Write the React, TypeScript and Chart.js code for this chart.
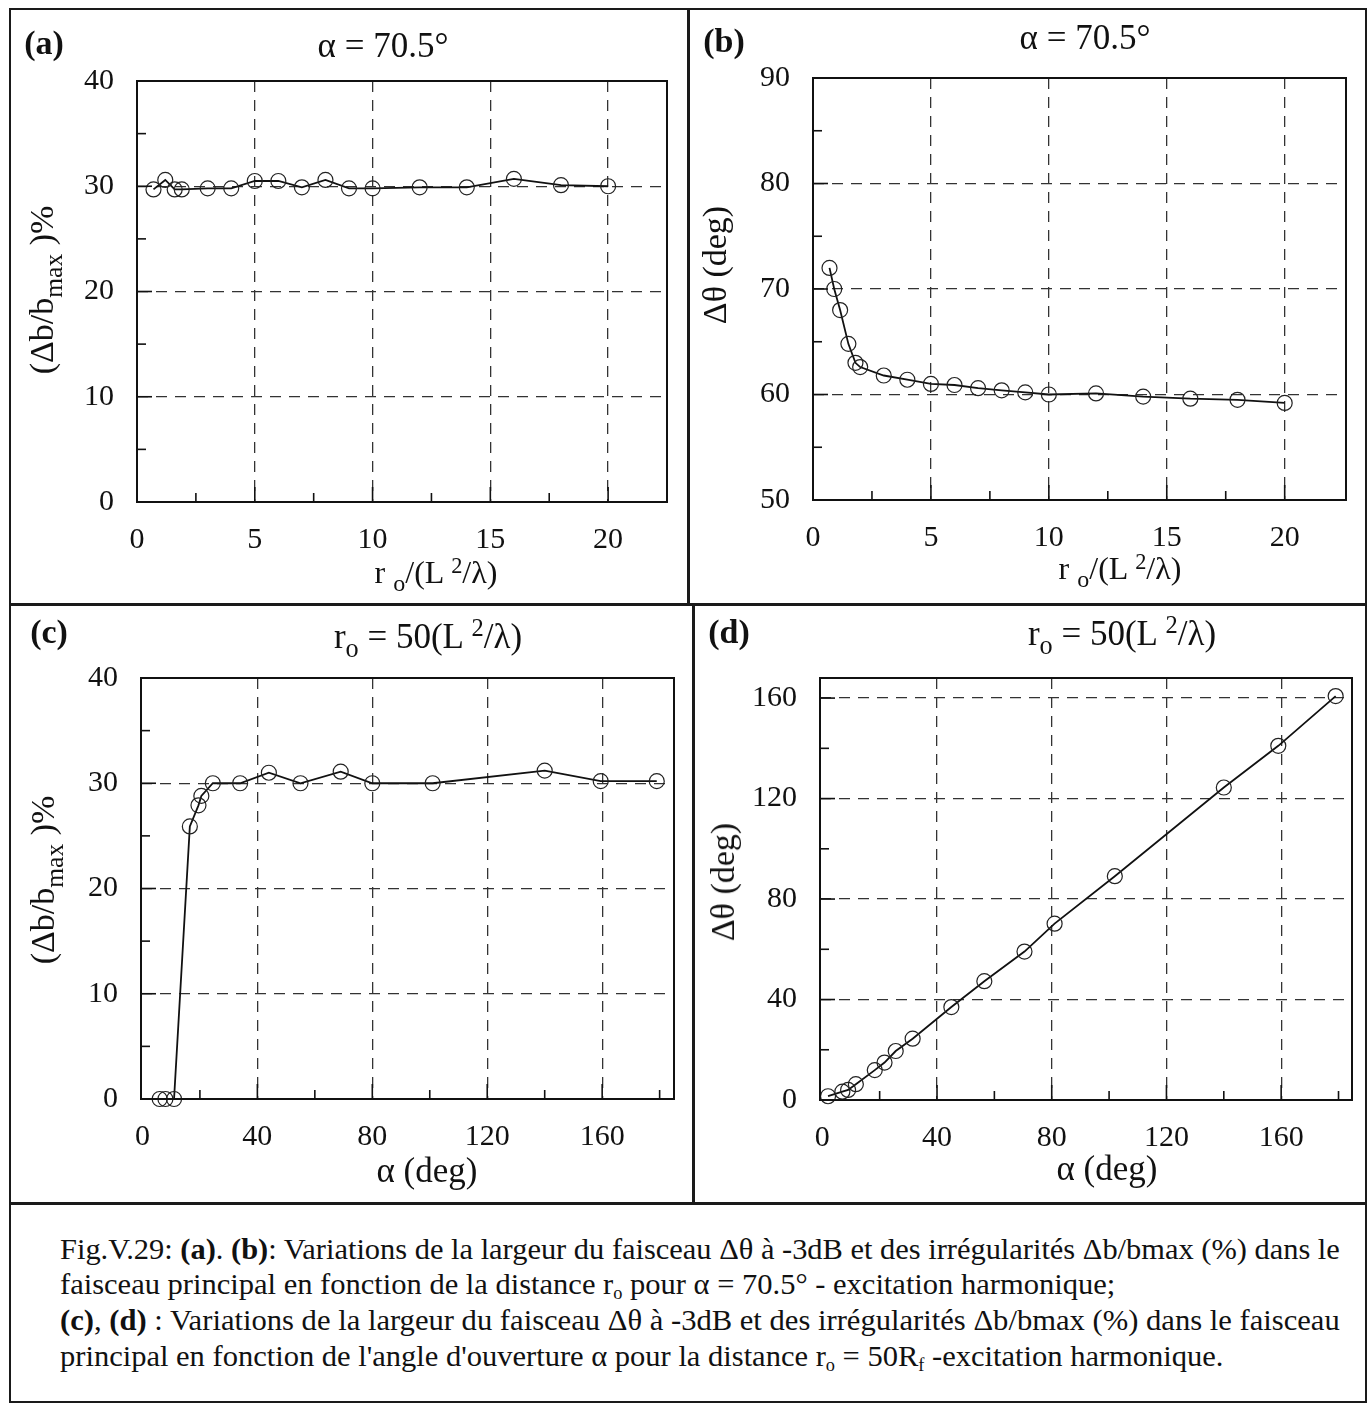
import React, { useEffect, useLayoutEffect, useRef } from "react";
import { Chart, registerables } from "chart.js";

Chart.register(...registerables);

const FONT = "'Liberation Serif', 'Times New Roman', serif";

// ---------- data ----------
// (a) Δb/bmax (%) vs r0/(L²/λ), α = 70.5°
const aX = [0.7, 1.2, 1.6, 1.9, 3, 4, 5, 6, 7, 8, 9, 10, 12, 14, 16, 18, 20];
const aY = [29.7, 30.6, 29.7, 29.7, 29.8, 29.8, 30.5, 30.5, 29.9, 30.6, 29.8, 29.8, 29.9, 29.9, 30.7, 30.1, 30.0];
// (b) Δθ (deg) vs r0/(L²/λ), α = 70.5°
const bX = [0.7, 0.9, 1.15, 1.5, 1.8, 2, 3, 4, 5, 6, 7, 8, 9, 10, 12, 14, 16, 18, 20];
const bY = [72, 70, 68, 64.8, 63, 62.6, 61.8, 61.4, 61, 60.9, 60.6, 60.4, 60.2, 60, 60.1, 59.8, 59.6, 59.5, 59.2];
// (c) Δb/bmax (%) vs α (deg), r0 = 50(L²/λ)
const cX = [6, 8, 11, 16.5, 19.5, 20.5, 24.5, 34, 44, 55, 69, 80, 101, 140, 159.5, 179];
const cY = [0, 0, 0, 25.9, 27.9, 28.8, 30, 30, 31, 30, 31.1, 30, 30, 31.2, 30.2, 30.2];
// (d) Δθ (deg) vs α (deg), r0 = 50(L²/λ)
const dX = [2, 7, 9, 11.7, 18.3, 21.7, 25.6, 31.5, 45, 56.5, 70.5, 81, 102, 140, 159, 179];
const dY = [1.5, 3.3, 4, 6.3, 11.9, 14.9, 19.5, 24.4, 37, 47.3, 59.1, 70.2, 89.1, 124.4, 141, 160.8];

// tick values
const xTicksR = [0, 5, 10, 15, 20];
const xMinorR = [2.5, 7.5, 12.5, 17.5];
const yTicksA = [0, 10, 20, 30, 40];
const yMinorA = [5, 15, 25, 35];
const yTicksB = [50, 60, 70, 80, 90];
const yMinorB = [55, 65, 75, 85];
const xTicksAlpha = [0, 40, 80, 120, 160];
const xMinorAlpha = [20, 60, 100, 140, 180];
const yTicksC = [0, 10, 20, 30, 40];
const yMinorC = [5, 15, 25, 35];
const yTicksD = [0, 40, 80, 120, 160];
const yMinorD = [20, 60, 100, 140];

type Cfg = {
  box: { l: number; t: number; w: number; h: number };
  area: { l: number; t: number; r: number; b: number };
  xMin: number; xMax: number; yMin: number; yMax: number;
  xTicks: number[]; xMinor: number[]; yTicks: number[]; yMinor: number[];
  xs: number[]; ys: number[];
};

const panels: Cfg[] = [
  {
    box: { l: 12, t: 12, w: 674, h: 588 },
    area: { l: 137, t: 81, r: 667, b: 502 },
    xMin: 0, xMax: 22.5, yMin: 0, yMax: 40,
    xTicks: xTicksR, xMinor: xMinorR, yTicks: yTicksA, yMinor: yMinorA,
    xs: aX, ys: aY,
  },
  {
    box: { l: 690, t: 12, w: 674, h: 588 },
    area: { l: 813, t: 78, r: 1346, b: 500 },
    xMin: 0, xMax: 22.6, yMin: 50, yMax: 90,
    xTicks: xTicksR, xMinor: xMinorR, yTicks: yTicksB, yMinor: yMinorB,
    xs: bX, ys: bY,
  },
  {
    box: { l: 12, t: 607, w: 678, h: 594 },
    area: { l: 141, t: 678, r: 674, b: 1099 },
    xMin: -0.5, xMax: 185, yMin: 0, yMax: 40,
    xTicks: xTicksAlpha, xMinor: xMinorAlpha, yTicks: yTicksC, yMinor: yMinorC,
    xs: cX, ys: cY,
  },
  {
    box: { l: 695, t: 607, w: 669, h: 594 },
    area: { l: 820, t: 678, r: 1352, b: 1100 },
    xMin: -0.8, xMax: 184.7, yMin: 0, yMax: 168,
    xTicks: xTicksAlpha, xMinor: xMinorAlpha, yTicks: yTicksD, yMinor: yMinorD,
    xs: dX, ys: dY,
  },
];

function PanelChart({ cfg }: { cfg: Cfg }) {
  const ref = useRef<HTMLCanvasElement>(null);
  useEffect(() => {
    const { box, area } = cfg;
    const yW = area.l - box.l;
    const xH = box.t + box.h - area.b;
    const nearEdge = (v: number, lo: number, hi: number) => {
      const tol = (hi - lo) * 0.015;
      return v - lo < tol || hi - v < tol;
    };
    const framePlugin = {
      id: "frame",
      afterDraw(chart: any) {
        const ctx = chart.ctx;
        const ca = chart.chartArea;
        const sx = chart.scales.x;
        const sy = chart.scales.y;
        ctx.save();
        ctx.strokeStyle = "#111";
        ctx.lineWidth = 2;
        ctx.setLineDash([]);
        ctx.strokeRect(ca.left, ca.top, ca.right - ca.left, ca.bottom - ca.top);
        ctx.lineWidth = 1.6;
        const vt = (vals: number[], len: number) => {
          vals.forEach((v) => {
            const px = sx.getPixelForValue(v);
            if (px <= ca.left + 3 || px >= ca.right - 1) return;
            ctx.beginPath();
            ctx.moveTo(px, ca.bottom);
            ctx.lineTo(px, ca.bottom - len);
            ctx.stroke();
          });
        };
        const ht = (vals: number[], len: number) => {
          vals.forEach((v) => {
            const py = sy.getPixelForValue(v);
            if (py <= ca.top + 1 || py >= ca.bottom - 1) return;
            ctx.beginPath();
            ctx.moveTo(ca.left, py);
            ctx.lineTo(ca.left + len, py);
            ctx.stroke();
          });
        };
        vt(cfg.xTicks, 15);
        vt(cfg.xMinor, 9);
        ht(cfg.yTicks, 15);
        ht(cfg.yMinor, 9);
        ctx.restore();
      },
    };
    const chart = new Chart(ref.current as HTMLCanvasElement, {
      type: "line",
      data: {
        datasets: [
          {
            data: cfg.xs.map((x, i) => ({ x, y: cfg.ys[i] })),
            borderColor: "#111",
            borderWidth: 1.8,
            pointRadius: 7.5,
            pointBorderWidth: 1.2,
            pointBackgroundColor: "rgba(0,0,0,0)",
            pointBorderColor: "#222",
            tension: 0,
            fill: false,
            clip: false as any,
          } as any,
        ],
      },
      options: {
        animation: false,
        responsive: false,
        maintainAspectRatio: false,
        events: [],
        layout: {
          padding: { top: area.t - box.t, right: box.l + box.w - area.r, bottom: 0, left: 0 },
        },
        plugins: { legend: { display: false }, tooltip: { enabled: false } },
        scales: {
          x: {
            type: "linear",
            min: cfg.xMin,
            max: cfg.xMax,
            afterBuildTicks: (s: any) => {
              s.ticks = cfg.xTicks.map((v) => ({ value: v }));
            },
            afterFit: (s: any) => {
              s.height = xH;
            },
            ticks: {
              font: { family: FONT, size: 30 },
              color: "#111",
              padding: 20,
              maxRotation: 0,
              autoSkip: false,
            },
            grid: {
              color: (c: any) =>
                c.tick && nearEdge(c.tick.value, cfg.xMin, cfg.xMax) ? "rgba(0,0,0,0)" : "#333",
              lineWidth: 1.3,
              drawTicks: false,
            },
            border: { display: false, dash: [11, 8] },
          },
          y: {
            type: "linear",
            min: cfg.yMin,
            max: cfg.yMax,
            afterBuildTicks: (s: any) => {
              s.ticks = cfg.yTicks.map((v) => ({ value: v }));
            },
            afterFit: (s: any) => {
              s.width = yW;
            },
            ticks: {
              font: { family: FONT, size: 30 },
              color: "#111",
              padding: 23,
              autoSkip: false,
            },
            grid: {
              color: (c: any) =>
                c.tick && nearEdge(c.tick.value, cfg.yMin, cfg.yMax) ? "rgba(0,0,0,0)" : "#333",
              lineWidth: 1.3,
              drawTicks: false,
            },
            border: { display: false, dash: [11, 8] },
          },
        },
      } as any,
      plugins: [framePlugin],
    });
    return () => chart.destroy();
  }, [cfg]);
  const { box } = cfg;
  return (
    <canvas
      ref={ref}
      width={box.w}
      height={box.h}
      style={{ position: "absolute", left: box.l, top: box.t, width: box.w, height: box.h }}
    />
  );
}

function T({
  x, y, size, bold, rot, children,
}: { x: number; y: number; size: number; bold?: boolean; rot?: boolean; children: React.ReactNode }) {
  return (
    <div
      style={{
        position: "absolute",
        left: x,
        top: y,
        transform: `translate(-50%, -50%)${rot ? " rotate(-90deg)" : ""}`,
        fontFamily: FONT,
        fontSize: size,
        fontWeight: bold ? 700 : 400,
        lineHeight: 1,
        whiteSpace: "nowrap",
        color: "#111",
        zIndex: 2,
      }}
    >
      {children}
    </div>
  );
}

const subStyle: React.CSSProperties = { fontSize: "0.75em", verticalAlign: "-0.35em", lineHeight: 0 };
const supStyle: React.CSSProperties = { fontSize: "0.7em", verticalAlign: "0.45em", lineHeight: 0 };
const capSub: React.CSSProperties = { fontSize: "0.6em", verticalAlign: "-0.3em", lineHeight: 0 };

const RoTitle = () => (
  <span>
    r <span style={subStyle}>o</span>/(L <span style={supStyle}>2</span>/λ)
  </span>
);
const AbTitle = () => (
  <span>
    (Δb/b<span style={subStyle}>max</span> )%
  </span>
);
const R50Title = () => (
  <span>
    r<span style={subStyle}>o</span> = 50(L <span style={supStyle}>2</span>/λ)
  </span>
);

const captionCenters = [1249, 1284, 1320, 1356];
const captionJustifyWidth = 1280;

export default function App() {
  const capRefs = useRef<(HTMLDivElement | null)[]>([]);
  useLayoutEffect(() => {
    const els = capRefs.current;
    const w = els.map((el) => (el ? el.offsetWidth : 0));
    if (!w[0] || !w[2]) return;
    const s0 = captionJustifyWidth / w[0];
    const s2 = captionJustifyWidth / w[2];
    const sAvg = (s0 + s2) / 2;
    const scales = [s0, sAvg, s2, sAvg];
    els.forEach((el, i) => {
      if (el) el.style.transform = `scaleX(${scales[i]})`;
    });
  }, []);

  const lines: React.ReactNode[] = [
    <>Fig.V.29: <b>(a)</b>. <b>(b)</b>: Variations de la largeur du faisceau Δθ à -3dB et des irrégularités Δb/bmax (%) dans le</>,
    <>faisceau principal en fonction de la distance r<sub style={capSub}>o</sub> pour α = 70.5° - excitation harmonique;</>,
    <><b>(c)</b>, <b>(d)</b> : Variations de la largeur du faisceau Δθ à -3dB et des irrégularités Δb/bmax (%) dans le faisceau</>,
    <>principal en fonction de l'angle d'ouverture α pour la distance r<sub style={capSub}>o</sub> = 50R<sub style={capSub}>f</sub> -excitation harmonique.</>,
  ];

  const line = (s: React.CSSProperties): React.CSSProperties => ({
    position: "absolute",
    background: "#1a1a1a",
    ...s,
  });

  return (
    <div
      style={{
        position: "absolute",
        left: 0,
        top: 0,
        width: 1369,
        height: 1405,
        background: "#fff",
        overflow: "hidden",
        fontFamily: FONT,
      }}
    >
      {panels.map((p, i) => (
        <PanelChart key={i} cfg={p} />
      ))}

      {/* frame lines */}
      <div style={line({ left: 9, top: 8, width: 1358, height: 2 })} />
      <div style={line({ left: 9, top: 8, width: 2, height: 1395 })} />
      <div style={line({ left: 1365, top: 8, width: 2, height: 1395 })} />
      <div style={line({ left: 9, top: 1401, width: 1358, height: 2 })} />
      <div style={line({ left: 687, top: 8, width: 3, height: 597 })} />
      <div style={line({ left: 692, top: 603, width: 3, height: 600 })} />
      <div style={line({ left: 9, top: 603, width: 1358, height: 3 })} />
      <div style={line({ left: 9, top: 1202, width: 1358, height: 3 })} />

      {/* panel letters */}
      <T x={44} y={43} size={34} bold>(a)</T>
      <T x={724} y={41} size={34} bold>(b)</T>
      <T x={49} y={632} size={34} bold>(c)</T>
      <T x={729} y={632} size={34} bold>(d)</T>

      {/* panel titles */}
      <T x={383} y={45} size={35}>α = 70.5°</T>
      <T x={1085} y={37} size={35}>α = 70.5°</T>
      <T x={428} y={636} size={35}><R50Title /></T>
      <T x={1122} y={633} size={35}><R50Title /></T>

      {/* y titles */}
      <T x={42} y={290} size={34} rot><AbTitle /></T>
      <T x={715} y={265} size={34} rot>Δθ (deg)</T>
      <T x={43} y={880} size={34} rot><AbTitle /></T>
      <T x={723} y={882} size={34} rot>Δθ (deg)</T>

      {/* x titles */}
      <T x={436} y={572} size={32}><RoTitle /></T>
      <T x={1120} y={568} size={32}><RoTitle /></T>
      <T x={427} y={1170} size={35}>α (deg)</T>
      <T x={1107} y={1168} size={35}>α (deg)</T>

      {/* caption */}
      {lines.map((ln, i) => (
        <div
          key={i}
          ref={(el) => {
            capRefs.current[i] = el;
          }}
          style={{
            position: "absolute",
            left: 60,
            top: captionCenters[i] - 17,
            fontFamily: FONT,
            fontSize: 30,
            lineHeight: "34px",
            whiteSpace: "nowrap",
            color: "#111",
            transformOrigin: "0 50%",
          }}
        >
          {ln}
        </div>
      ))}
    </div>
  );
}
